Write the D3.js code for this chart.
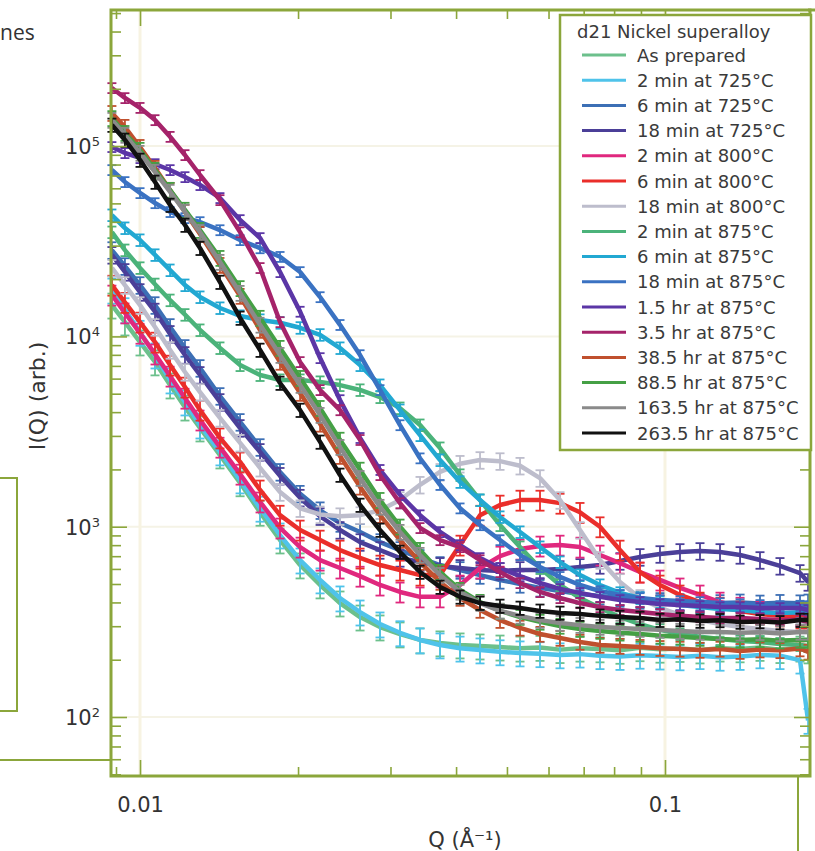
<!DOCTYPE html>
<html>
<head>
<meta charset="utf-8">
<script src="https://cdn.jsdelivr.net/npm/d3@7"></script>
<style>
  body { margin: 0; background: #fff; }
  text { font-family: "DejaVu Sans", Verdana, sans-serif; }
</style>
</head>
<body>
<svg id="chart" width="815" height="851"></svg>
<script>
// scattering vector Q (1/A), shared by every run
var q = [0.00884,0.00936,0.0100,0.01068,0.01141,0.01218,0.01301,0.01420,0.01551,0.01693,0.01848,0.02018,0.02203,0.02404,0.02625,0.02865,0.03128,0.03415,0.03728,0.04070,0.04443,0.04850,0.05295,0.05780,0.06310,0.06888,0.07520,0.08209,0.08962,0.09783,0.1068,0.1166,0.1273,0.1390,0.1517,0.1656,0.1808,0.1873];

// I(Q), one array per heat treatment
var asPrepared   = [14600,11900,9340,7340,5550,4250,3300,2380,1700,1190,851,629,494,397,335,297,273,254,245,239,236,233,230,232,226,230,228,224,231,227,229,225,230,228,232,226,230,225];
var min2at725    = [17500,13800,10500,7980,5900,4520,3420,2470,1760,1250,904,668,525,422,356,308,277,254,239,230,225,220,217,215,212,214,210,208,211,209,207,210,206,208,212,210,199,96];
var min6at725    = [28400,23400,18600,14600,11200,8690,6820,4860,3550,2620,1940,1490,1220,1045,938,830,754,685,629,592,557,525,500,477,459,443,433,422,412,407,402,404,397,400,395,398,396,400];
var min18at725   = [26800,21800,17100,13500,10300,7980,6270,4520,3300,2470,1850,1420,1135,961,830,754,685,652,622,607,592,585,592,592,599,614,629,660,693,718,736,745,736,710,668,622,571,512];
var min2at800    = [16500,13300,10400,8090,6190,4740,3640,2620,1890,1350,985,782,668,607,550,494,454,428,428,494,607,701,763,792,801,782,710,644,578,525,477,438,402,378,361,348,340,340];
var min6at800    = [18600,15100,11900,9340,7070,5420,4100,2930,2190,1560,1150,961,851,754,685,629,592,557,557,801,1150,1300,1380,1380,1330,1190,1000,754,578,494,438,402,378,361,348,340,331,331];
var min18at800   = [22900,18600,14600,11200,8480,6500,5100,3730,2760,2040,1520,1250,1160,1135,1150,1220,1380,1660,1940,2140,2240,2210,2090,1800,1380,961,668,512,422,374,344,323,308,297,290,283,280,280];
var min2at875    = [35300,28400,22900,18800,15500,13000,10800,8690,7070,6270,5900,5900,5760,5550,5230,4800,4200,3420,2590,1870,1380,1020,782,607,494,422,374,335,308,287,273,264,257,251,248,242,239,236];
var min6at875    = [43400,37100,32100,26800,22300,18600,16100,14100,12800,12200,11800,11100,10200,8690,7070,5550,4100,3030,2240,1720,1380,1125,938,782,652,557,494,449,422,402,388,378,369,365,356,352,355,350];
var min18at875   = [74900,64800,56700,50200,45100,41900,39900,36200,32100,29100,26200,21800,16100,11500,7980,5230,3420,2290,1660,1250,1020,851,710,614,545,494,459,438,422,412,407,402,397,392,388,383,385,381];
var hr1p5at875   = [99000,92000,86600,80500,74900,68800,62500,53400,40900,32900,21800,13500,7700,4630,2930,1990,1470,1150,938,801,685,607,550,506,471,449,428,412,402,392,388,383,378,378,374,374,374,365];
var hr3p5at875   = [202000,179000,159000,137100,112000,89800,70500,52100,35300,22900,11900,7340,5230,4100,2860,1870,1330,985,851,782,668,578,506,454,422,397,378,365,356,348,340,335,331,331,327,323,323,316];
var hr38p5at875  = [149000,126000,98800,76700,58800,45100,34500,23700,16300,10800,7340,5040,3470,2350,1620,1150,851,652,512,422,365,323,294,273,260,248,239,236,233,230,228,225,228,222,226,224,229,220];
var hr88p5at875  = [140000,117000,95400,74900,58800,46200,36200,25800,17900,12500,8690,6040,4200,2860,1990,1380,1000,754,578,465,402,361,335,316,301,290,283,277,273,267,264,260,257,254,256,252,254,254];
var hr163p5at875 = [137100,114400,92000,73100,57400,45100,35300,24600,16900,11500,7980,5550,3860,2620,1800,1270,938,710,557,454,397,361,340,323,312,304,297,294,290,287,283,280,280,277,279,275,280,280];
var hr263p5at875 = [129100,107700,84500,64800,49000,38500,29100,19300,12500,8480,5690,4100,2790,1870,1300,961,736,578,482,428,397,383,374,361,352,348,340,335,331,323,326,320,322,316,318,314,323,323];

var seriesNames = ["As prepared","2 min at 725°C","6 min at 725°C","18 min at 725°C","2 min at 800°C","6 min at 800°C","18 min at 800°C","2 min at 875°C","6 min at 875°C","18 min at 875°C","1.5 hr at 875°C","3.5 hr at 875°C","38.5 hr at 875°C","88.5 hr at 875°C","163.5 hr at 875°C","263.5 hr at 875°C"];
var seriesValues = [asPrepared,min2at725,min6at725,min18at725,min2at800,min6at800,min18at800,min2at875,min6at875,min18at875,hr1p5at875,hr3p5at875,hr38p5at875,hr88p5at875,hr163p5at875,hr263p5at875];
// relative error of each run
var relErr = [0.15,0.15,0.10,0.10,0.12,0.12,0.10,0.07,0.07,0.06,0.06,0.06,0.09,0.09,0.09,0.08];
var seriesColors = ["#6cc08c","#4fc3ea","#3c6fb5","#4b3f98","#e0287e","#ea2e2a","#bdbdcc","#4bb37a","#22a8d2","#3a72c2","#5b36a6","#a5236a","#c0502e","#45a045","#8a8a8a","#111111"];

var decades = [100, 1000, 10000, 100000];
var qLabels = [0.01, 0.1];

var olive = "#8ba63b";

// set the dimensions and margins of the graph
var margin = {top: 10, right: 5, bottom: 75, left: 111},
    width = 815 - margin.left - margin.right,
    height = 851 - margin.top - margin.bottom;

var x = d3.scaleLog().domain([0.008805, 0.1889]).range([0, width]);
var y = d3.scaleLog().domain([48.98, 519000]).range([height, 0]);

var svg = d3.select("#chart");

// bits of the scanned page around the figure
svg.append("text").attr("x", 0).attr("y", 40)
    .style("font-family", "'Open Sans', sans-serif").style("font-size", "21px").attr("fill", "#333")
    .text("nes");
svg.append("path").attr("d", "M-2,478H17V711H-2").attr("fill", "none").attr("stroke", olive).attr("stroke-width", 2);
svg.append("line").attr("x1", 0).attr("x2", 111).attr("y1", 760).attr("y2", 760).attr("stroke", olive).attr("stroke-width", 2);
svg.append("line").attr("x1", 798).attr("x2", 798).attr("y1", 776).attr("y2", 851).attr("stroke", olive).attr("stroke-width", 2);
svg.append("line").attr("x1", 808).attr("x2", 815).attr("y1", 10).attr("y2", 10).attr("stroke", olive).attr("stroke-width", 3);

var g = svg.append("g").attr("transform", "translate(" + margin.left + "," + margin.top + ")");

g.append("clipPath").attr("id", "plotclip")
  .append("rect").attr("x", -6).attr("y", 0).attr("width", width + 6).attr("height", height);

// faint grid at the decades
g.selectAll(".hgrid").data(decades).enter().append("line")
    .attr("x1", 0).attr("x2", width)
    .attr("y1", function(d) { return y(d); }).attr("y2", function(d) { return y(d); })
    .attr("stroke", "#f5f3e6").attr("stroke-width", 2);
g.selectAll(".vgrid").data(qLabels).enter().append("line")
    .attr("y1", 0).attr("y2", height)
    .attr("x1", function(d) { return x(d); }).attr("x2", function(d) { return x(d); })
    .attr("stroke", "#f7f3e2").attr("stroke-width", 3);

// curves with error bars
var line = d3.line()
    .x(function(d) { return x(d.q); })
    .y(function(d) { return y(d.v); });

var plot = g.append("g").attr("clip-path", "url(#plotclip)");

seriesValues.forEach(function(vals, i) {
  var pts = vals.map(function(v, j) { return {q: q[j], v: v, e: v * relErr[i]}; });
  var s = plot.append("g").attr("stroke", seriesColors[i]).attr("fill", "none");
  s.append("path").datum(pts).attr("d", line).attr("stroke-width", 4.5).attr("stroke-linejoin", "round");
  var bars = s.selectAll("g").data(pts).enter().append("g").attr("stroke-width", 1.8);
  bars.append("line")
      .attr("x1", function(d) { return x(d.q); }).attr("x2", function(d) { return x(d.q); })
      .attr("y1", function(d) { return y(d.v + d.e); }).attr("y2", function(d) { return y(d.v - d.e); });
  bars.append("line")
      .attr("x1", function(d) { return x(d.q) - 4.5; }).attr("x2", function(d) { return x(d.q) + 4.5; })
      .attr("y1", function(d) { return y(d.v + d.e); }).attr("y2", function(d) { return y(d.v + d.e); });
  bars.append("line")
      .attr("x1", function(d) { return x(d.q) - 4.5; }).attr("x2", function(d) { return x(d.q) + 4.5; })
      .attr("y1", function(d) { return y(d.v - d.e); }).attr("y2", function(d) { return y(d.v - d.e); });
});

// axes: ticks point inward on all four sides
var isDecade = function(d) { return Math.abs(Math.log10(d) - Math.round(Math.log10(d))) < 1e-6; };
var yMinor = y.ticks().filter(function(d) { return !isDecade(d); });
var xMinor = x.ticks().filter(function(d) { return !isDecade(d); });

function styleAxis(sel) {
  sel.select(".domain").remove();
  sel.selectAll(".tick line").attr("stroke", olive).attr("stroke-width", 1.6);
  sel.selectAll(".tick text").attr("fill", "#333").style("font-size", "21px");
}

g.append("g").call(d3.axisLeft(y).tickValues(yMinor).tickSize(-10).tickFormat("")).call(styleAxis);
g.append("g").call(d3.axisLeft(y).tickValues(decades).tickSize(-16).tickFormat("")).call(styleAxis);
g.append("g").attr("transform", "translate(" + width + ",0)")
    .call(d3.axisRight(y).tickValues(yMinor).tickSize(-10).tickFormat("")).call(styleAxis);
g.append("g").attr("transform", "translate(" + width + ",0)")
    .call(d3.axisRight(y).tickValues(decades).tickSize(-16).tickFormat("")).call(styleAxis);

g.append("g").attr("transform", "translate(0," + height + ")")
    .call(d3.axisBottom(x).tickValues(xMinor).tickSize(-9).tickFormat("")).call(styleAxis);
g.append("g").attr("transform", "translate(0," + height + ")")
    .call(d3.axisBottom(x).tickValues(qLabels).tickSize(-16).tickPadding(21).tickFormat(d3.format(""))).call(styleAxis);
g.append("g").call(d3.axisTop(x).tickValues(xMinor).tickSize(-9).tickFormat("")).call(styleAxis);
g.append("g").call(d3.axisTop(x).tickValues(qLabels).tickSize(-16).tickFormat("")).call(styleAxis);

// decade labels with a raised exponent
var ylab = g.selectAll(".ylab").data(decades).enter().append("text")
    .attr("x", -11).attr("y", function(d) { return y(d) + 8; })
    .attr("text-anchor", "end").attr("fill", "#333");
ylab.append("tspan").style("font-size", "21px").text("10");
ylab.append("tspan").style("font-size", "13px").attr("dy", -8)
    .text(function(d) { return Math.round(Math.log10(d)); });

// frame
g.append("rect").attr("width", width).attr("height", height)
    .attr("fill", "none").attr("stroke", olive).attr("stroke-width", 3);

// axis titles
svg.append("text").attr("x", 465).attr("y", 847).attr("text-anchor", "middle")
    .style("font-size", "21px").attr("fill", "#333").text("Q (Å⁻¹)");
svg.append("text").attr("transform", "translate(45,396) rotate(-90)").attr("text-anchor", "middle")
    .style("font-size", "22px").attr("fill", "#333").text("I(Q) (arb.)");

// legend
var lg = svg.append("g");
lg.append("rect").attr("x", 560).attr("y", 15).attr("width", 251).attr("height", 435)
    .attr("fill", "#fff").attr("stroke", olive).attr("stroke-width", 2.5);
lg.append("text").attr("x", 577).attr("y", 38).style("font-size", "18px").attr("fill", "#3a3a3a")
    .text("d21 Nickel superalloy");
var items = lg.selectAll(".item").data(seriesNames).enter().append("g")
    .attr("transform", function(d, i) { return "translate(0," + (55 + 25.2 * i) + ")"; });
items.append("line").attr("x1", 582).attr("x2", 626).attr("y1", 0).attr("y2", 0)
    .attr("stroke", function(d, i) { return seriesColors[i]; }).attr("stroke-width", 3);
items.append("text").attr("x", 637).attr("y", 6.5).style("font-size", "18px").attr("fill", "#3a3a3a")
    .text(function(d) { return d; });
</script>
</body>
</html>
